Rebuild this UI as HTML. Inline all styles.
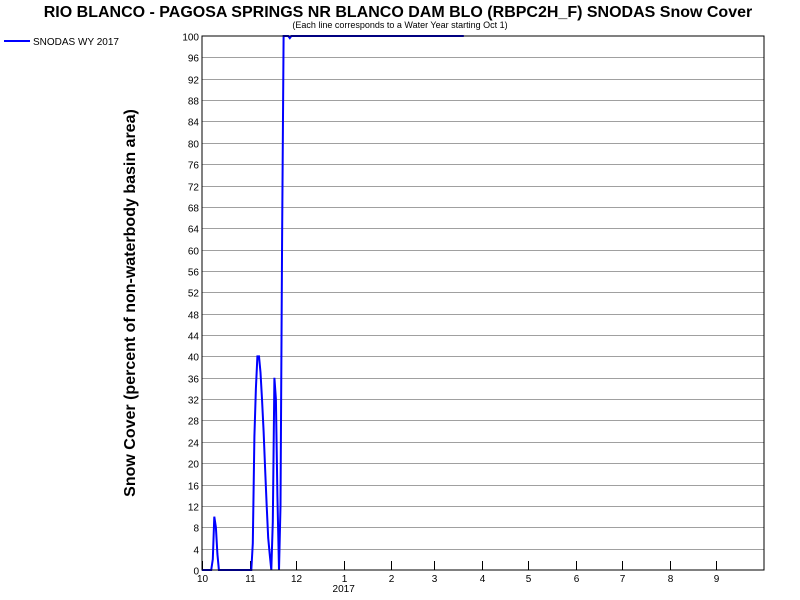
<!DOCTYPE html>
<html><head><meta charset="utf-8"><style>body{margin:0;background:#fff}svg{display:block;font-family:"Liberation Sans",Arial,sans-serif}</style></head>
<body>
<svg id="chart" width="800" height="600" viewBox="0 0 800 600">
<text x="398" y="17" text-anchor="middle" font-size="16" font-weight="bold">RIO BLANCO - PAGOSA SPRINGS NR  BLANCO DAM BLO (RBPC2H_F) SNODAS Snow Cover</text>
<text x="400" y="28" text-anchor="middle" font-size="9">(Each line corresponds to a Water Year starting Oct 1)</text>
<g>
<line x1="4" y1="41" x2="30" y2="41" stroke="#0000ff" stroke-width="2"/>
<text x="33" y="45" font-size="10">SNODAS WY 2017</text></g>
<text transform="translate(135,303) rotate(-90)" text-anchor="middle" font-size="16" font-weight="bold">Snow Cover (percent of non-waterbody basin area)</text>
<g id="grid"></g>
<g id="yaxis"></g>
<g id="xaxis"></g>
<polyline id="series" fill="none" stroke="#0000ff" stroke-width="2" stroke-linejoin="miter"/>
<rect x="202" y="36" width="562" height="534" fill="none" stroke="#000" stroke-width="1"/>
</svg>
<script>
const yTicks=[0,4,8,12,16,20,24,28,32,36,40,44,48,52,56,60,64,68,72,76,80,84,88,92,96,100];
const monthLabels=["10","11","12","1","2","3","4","5","6","7","8","9"];
const monthStartDays=[0,31,61,92,123,151,182,212,243,273,304,334];
const days=[0,6,7,8,9,10,11,32,33,34,35,36,37,38,39,40,41,42,43,44,45,46,47,48,49,50,51,52,53,56,57,58,170];
const values=[0,0,2,10,8,3,0,0,5,25,34,40,40,37,32,26,19,12,6,3,0,9,36,32,14,0,12,62,100,100,99.6,100,100];
const X0=202,X1=764,Y0=570,Y1=36,NDAYS=365;
const xs=d=>X0+(d/NDAYS)*(X1-X0);
const ys=v=>Y0-(v/100)*(Y0-Y1);
const NS="http://www.w3.org/2000/svg";
const grid=document.getElementById('grid'),ya=document.getElementById('yaxis'),xa=document.getElementById('xaxis');
function mk(tag,attrs,parent){const e=document.createElementNS(NS,tag);for(const k in attrs)e.setAttribute(k,attrs[k]);parent.appendChild(e);return e;}
yTicks.forEach(t=>{
  const y=Math.round(ys(t))+0.5;
  if(t>0&&t<100){const g=mk('line',{x1:X0,x2:X1,y1:y,y2:y,stroke:'#a0a0a0','stroke-width':1},grid);
  
  }
  const tx=mk('text',{x:X0-3,y:y+4,'text-anchor':'end','font-size':10},ya);
  
  
  tx.textContent=t;
});
monthLabels.forEach((m,i)=>{
  const x=Math.round(xs(monthStartDays[i]))+0.5;
  mk('line',{x1:x,x2:x,y1:Y0-9,y2:Y0,stroke:'#000','stroke-width':1},xa);
  const tx=mk('text',{x:x,y:Y0+12,'text-anchor':'middle','font-size':10},xa);
  
  
  tx.textContent=m;
});
const yr=mk('text',{x:xs(monthStartDays[3]),y:Y0+22,'text-anchor':'middle','font-size':10},xa);


yr.textContent="2017";
document.getElementById('series').setAttribute('points',days.map((d,i)=>xs(d).toFixed(1)+','+ys(values[i]).toFixed(1)).join(' '));
</script>
</body></html>
